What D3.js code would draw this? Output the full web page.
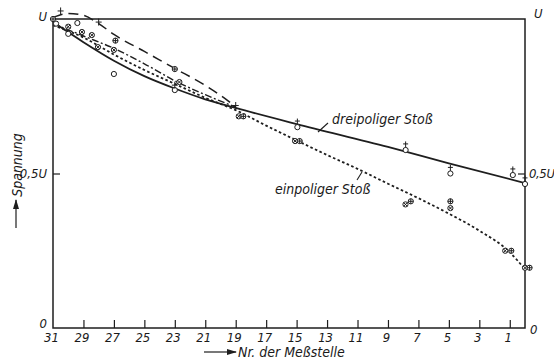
<!DOCTYPE html>
<html>
<head>
<meta charset="utf-8">
<script src="https://cdn.jsdelivr.net/npm/d3@7"></script>
<style>
  html, body { margin: 0; padding: 0; background: #fff; }
  svg { display: block; }
  text { font-family: "DejaVu Sans Condensed", "Liberation Sans Narrow", "Liberation Sans", sans-serif; font-style: italic; fill: #1a1a1a; }
</style>
</head>
<body>
<svg id="chart" width="554" height="360"></svg>
<script>
// Measuring points along the line, numbered 31 down to 1
const stations = [31, 29, 27, 25, 23, 21, 19, 17, 15, 13, 11, 9, 7, 5, 3, 1];
const voltageTicks = [0, 0.5, 1];
const voltageLabels = ["0", "0,5U", "U"];

// Three-pole impulse (solid curve)
const dreiN = [31, 29, 27, 25, 23, 21, 19, 15, 9, 5, 0];
const dreiV = [0.99, 0.925, 0.865, 0.815, 0.775, 0.74, 0.712, 0.66, 0.586, 0.533, 0.469];

// Single-pole impulse (dotted curve)
const einN = [31, 29, 27, 25, 23, 21, 19, 17, 15, 13, 11, 9, 7, 5, 3, 1, 0];
const einV = [0.98, 0.94, 0.885, 0.835, 0.79, 0.745, 0.705, 0.655, 0.607, 0.56, 0.515, 0.467, 0.42, 0.37, 0.315, 0.245, 0.19];

// Long-dashed comparison curve
const dashN = [31, 30, 29, 28, 27, 25, 23, 21, 19.5, 19];
const dashV = [1.005, 1.018, 1.012, 0.985, 0.95, 0.895, 0.84, 0.785, 0.735, 0.715];

// Dash-dot comparison curve
const dashDotN = [31, 29, 27, 25, 23, 21, 19];
const dashDotV = [0.985, 0.945, 0.905, 0.855, 0.80, 0.755, 0.715];

// Measured points, by symbol
const ptsDreiN = [14.95, 7.84, 4.9, 0.8, 0.0];
const ptsDreiV = [0.65, 0.576, 0.50, 0.495, 0.466];

const ptsCrossN = [30.0, 29.1, 28.45, 28.05, 27.0, 22.7, 18.8, 15.1, 7.85, 4.9, 1.3, 0.0];
const ptsCrossV = [0.975, 0.958, 0.948, 0.909, 0.90, 0.796, 0.685, 0.605, 0.40, 0.388, 0.25, 0.195];

const ptsPlusCircN = [31.0, 26.9, 23.0, 18.5, 14.8, 7.5, 4.9, 0.9, -0.3];
const ptsPlusCircV = [1.0, 0.93, 0.838, 0.685, 0.605, 0.41, 0.41, 0.25, 0.195];

const ptsCircN = [30.8, 30.0, 29.4, 27.0, 23.0];
const ptsCircV = [0.985, 0.952, 0.987, 0.822, 0.77];

const ptsPlusN = [30.5, 28.0, 23.0, 19.0];
const ptsPlusV = [1.026, 0.99, 0.786, 0.72];

const zip = (a, b) => a.map((d, i) => [d, b[i]]);

const svg = d3.select("#chart");
const ink = "#1e1e1e";

const x = d3.scaleLinear().domain([31, 0]).range([53, 525]);
const y = d3.scaleLinear().domain([0, 1]).range([328, 19]);

// Frame
svg.append("rect")
  .attr("x", x(31)).attr("y", y(1))
  .attr("width", x(0) - x(31)).attr("height", y(0) - y(1))
  .attr("fill", "none").attr("stroke", ink).attr("stroke-width", 1.5);

// Bottom axis with inward ticks
const xAxis = svg.append("g")
  .attr("transform", `translate(0,${y(0)})`)
  .call(d3.axisBottom(x).tickValues(stations).tickSize(-8).tickPadding(5).tickFormat(d3.format("d")));
xAxis.select(".domain").remove();
xAxis.selectAll("line").attr("stroke", ink).attr("stroke-width", 1.2);
xAxis.selectAll("text").attr("font-size", 13).attr("fill", ink).attr("dx", "-2");
xAxis.selectAll(".tick").filter(d => d === 31).select("line").remove();

// Left and right axes
function voltageAxis(axisGen, xpos) {
  const g = svg.append("g")
    .attr("transform", `translate(${xpos},0)`)
    .call(axisGen.tickValues(voltageTicks).tickSize(-7).tickPadding(5)
      .tickFormat((d, i) => voltageLabels[i]));
  g.select(".domain").remove();
  g.selectAll("line").attr("stroke", ink).attr("stroke-width", 1.2);
  g.selectAll(".tick").filter(d => d !== 0.5).select("line").remove();
  g.selectAll("text").attr("font-size", 13).attr("fill", ink)
    .attr("dy", d => d === 0 ? "-0.05em" : d === 1 ? "0.15em" : "0.32em");
  return g;
}
const left = voltageAxis(d3.axisLeft(y), x(31));
left.selectAll("text").attr("x", -6);
const right = voltageAxis(d3.axisRight(y), x(0));
right.selectAll("text").attr("x", 4).attr("letter-spacing", "-0.4");
right.selectAll("text").filter(d => d === 1).attr("dy", "-0.1em").attr("x", 9);
right.selectAll("text").filter(d => d === 0).attr("dy", "0.45em").attr("x", 5);

// Curves
const line = d3.line().x(d => x(d[0])).y(d => y(d[1])).curve(d3.curveMonotoneX);

function curve(n, v, width, dash) {
  svg.append("path")
    .datum(zip(n, v))
    .attr("d", line)
    .attr("fill", "none").attr("stroke", ink)
    .attr("stroke-width", width)
    .attr("stroke-dasharray", dash)
    .attr("stroke-linecap", "butt");
}
curve(dashN, dashV, 1.5, "10,6");
curve(dashDotN, dashDotV, 1.4, "7,2.5,2,2.5");
curve(einN, einV, 1.8, "2.6,2.4");
curve(dreiN, dreiV, 1.8, null);

// Symbols
const sym = svg.append("g").attr("stroke", ink).attr("fill", "#fff").attr("stroke-width", 1);
const r = 2.6;

function circles(n, v) {
  return sym.selectAll(null).data(zip(n, v)).join("g")
    .attr("transform", d => `translate(${x(d[0])},${y(d[1])})`)
    .call(g => g.append("circle").attr("r", r));
}
circles(ptsCircN, ptsCircV);
circles(ptsCrossN, ptsCrossV).append("path")
  .attr("d", `M${-r * 0.7},${-r * 0.7}L${r * 0.7},${r * 0.7}M${-r * 0.7},${r * 0.7}L${r * 0.7},${-r * 0.7}`);
circles(ptsPlusCircN, ptsPlusCircV).append("path")
  .attr("d", `M${-r},0L${r},0M0,${-r}L0,${r}`);
circles(ptsDreiN, ptsDreiV).append("path")
  .attr("d", `M0,${-r}L0,${-r - 6}M-2.5,${-r - 3.5}L2.5,${-r - 3.5}`);
sym.selectAll(null).data(zip(ptsPlusN, ptsPlusV)).join("path")
  .attr("transform", d => `translate(${x(d[0])},${y(d[1])})`)
  .attr("d", "M-3,0L3,0M0,-3.5L0,3.5");

// Curve labels with leader strokes
svg.append("text").attr("x", 332).attr("y", 124).attr("font-size", 14).text("dreipoliger Stoß");
svg.append("line").attr("x1", 318).attr("y1", 132).attr("x2", 328).attr("y2", 123)
  .attr("stroke", ink).attr("stroke-width", 1.1);
svg.append("text").attr("x", 275).attr("y", 194).attr("font-size", 14).text("einpoliger Stoß");
svg.append("line").attr("x1", 357).attr("y1", 180).attr("x2", 362).attr("y2", 172)
  .attr("stroke", ink).attr("stroke-width", 1.1);

// Axis titles with arrows
svg.append("defs").append("marker")
  .attr("id", "head").attr("viewBox", "0 0 10 6").attr("refX", 9).attr("refY", 3)
  .attr("markerWidth", 10).attr("markerHeight", 6).attr("markerUnits", "userSpaceOnUse")
  .attr("orient", "auto")
  .append("path").attr("d", "M0,0L10,3L0,6Z").attr("fill", ink);

svg.append("text")
  .attr("transform", "translate(22,165) rotate(-90)")
  .attr("text-anchor", "middle").attr("font-size", 14).text("Spannung");
svg.append("line").attr("x1", 16).attr("y1", 228).attr("x2", 16).attr("y2", 200)
  .attr("stroke", ink).attr("stroke-width", 1.2).attr("marker-end", "url(#head)");

svg.append("line").attr("x1", 204).attr("y1", 352).attr("x2", 236).attr("y2", 352)
  .attr("stroke", ink).attr("stroke-width", 1.2).attr("marker-end", "url(#head)");
svg.append("text").attr("x", 238).attr("y", 357).attr("font-size", 14).text("Nr. der Meßstelle");
</script>
</body>
</html>
